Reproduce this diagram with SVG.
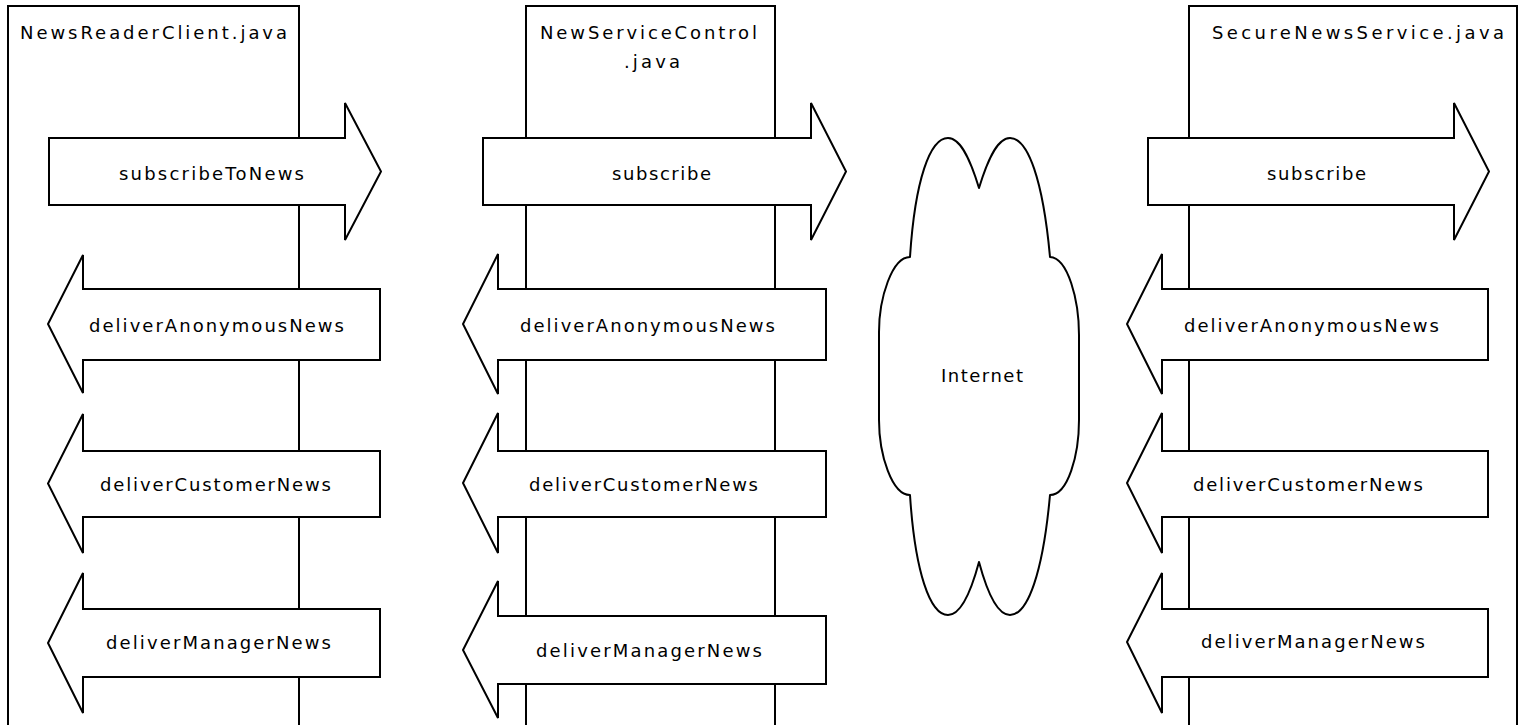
<svg xmlns="http://www.w3.org/2000/svg" width="1522" height="725" viewBox="0 0 1522 725">
  <style>
    .box { fill: #ffffff; stroke: #000000; stroke-width: 2; }
    .arrow { fill: #ffffff; stroke: #000000; stroke-width: 2; stroke-linejoin: miter; }
    .cloud { fill: #ffffff; stroke: #000000; stroke-width: 2; stroke-linejoin: round; }
    .lbl { font-family: "DejaVu Sans", "Liberation Sans", sans-serif; font-size: 18px; fill: #000000; }
  </style>

  <rect x="0" y="0" width="1522" height="725" fill="#ffffff"/>

  <!-- component boxes -->
  <g id="newsReaderClient">
    <rect class="box" x="8" y="6" width="291" height="730"/>
    <text class="lbl" x="20" y="39" textLength="267" lengthAdjust="spacing">NewsReaderClient.java</text>
  </g>

  <g id="newServiceControl">
    <rect class="box" x="526" y="6" width="249" height="730"/>
    <text class="lbl" x="540" y="39" textLength="217" lengthAdjust="spacing">NewServiceControl</text>
    <text class="lbl" x="624" y="68" textLength="56" lengthAdjust="spacing">.java</text>
  </g>

  <g id="secureNewsService">
    <rect class="box" x="1189" y="6" width="328" height="730"/>
    <text class="lbl" x="1212" y="39" textLength="292" lengthAdjust="spacing">SecureNewsService.java</text>
  </g>

  <!-- network cloud -->
  <g id="internet">
    <path class="cloud" d="M910 257
      C915 180 930 138 948 138
      C962 138 972 165 979 188
      C986 165 996 138 1010 138
      C1028 138 1043 180 1050 257
      C1068 258 1079 300 1079 335
      L1079 420
      C1079 455 1068 495 1050 495
      C1043 572 1028 615 1010 615
      C996 615 986 588 979 562
      C972 588 962 615 948 615
      C930 615 915 572 910 495
      C892 495 879 455 879 420
      L879 332
      C879 298 892 257 910 257 Z"/>
    <text class="lbl" x="941" y="382" textLength="82" lengthAdjust="spacing">Internet</text>
  </g>

  <!-- message arrows -->
  <g id="connectors">
    <!-- subscribe calls (left to right) -->
    <g id="msg-subscribeToNews">
      <path class="arrow" d="M49 138 H345 V103 L381 171.5 L345 240 V205 H49 Z"/>
      <text class="lbl" x="119" y="180" textLength="185" lengthAdjust="spacing">subscribeToNews</text>
    </g>
    <g id="msg-subscribe-control">
      <path class="arrow" d="M483 138 H811 V103 L846 171.5 L811 240 V205 H483 Z"/>
      <text class="lbl" x="612" y="180" textLength="99" lengthAdjust="spacing">subscribe</text>
    </g>
    <g id="msg-subscribe-service">
      <path class="arrow" d="M1148 138 H1454 V103 L1489 171.5 L1454 240 V205 H1148 Z"/>
      <text class="lbl" x="1267" y="180" textLength="99" lengthAdjust="spacing">subscribe</text>
    </g>

    <!-- delivery callbacks (right to left) -->
    <g id="msg-anon-client">
      <path class="arrow" d="M380 289 H83 V255 L48 324 L83 393 V360 H380 Z"/>
      <text class="lbl" x="89" y="332" textLength="255" lengthAdjust="spacing">deliverAnonymousNews</text>
    </g>
    <g id="msg-customer-client">
      <path class="arrow" d="M380 451 H83 V414 L48 483.5 L83 553 V517 H380 Z"/>
      <text class="lbl" x="100" y="491" textLength="231" lengthAdjust="spacing">deliverCustomerNews</text>
    </g>
    <g id="msg-manager-client">
      <path class="arrow" d="M380 609 H83 V573 L48 643 L83 713 V677 H380 Z"/>
      <text class="lbl" x="106" y="649" textLength="225" lengthAdjust="spacing">deliverManagerNews</text>
    </g>

    <g id="msg-anon-control">
      <path class="arrow" d="M826 289 H498 V254 L463 324 L498 394 V360 H826 Z"/>
      <text class="lbl" x="520" y="332" textLength="255" lengthAdjust="spacing">deliverAnonymousNews</text>
    </g>
    <g id="msg-customer-control">
      <path class="arrow" d="M826 451 H498 V413 L463 483 L498 553 V517 H826 Z"/>
      <text class="lbl" x="529" y="491" textLength="229" lengthAdjust="spacing">deliverCustomerNews</text>
    </g>
    <g id="msg-manager-control">
      <path class="arrow" d="M826 616 H498 V581 L463 650 L498 718 V684 H826 Z"/>
      <text class="lbl" x="536" y="657" textLength="226" lengthAdjust="spacing">deliverManagerNews</text>
    </g>

    <g id="msg-anon-service">
      <path class="arrow" d="M1488 289 H1162 V254 L1127 324 L1162 394 V360 H1488 Z"/>
      <text class="lbl" x="1184" y="332" textLength="255" lengthAdjust="spacing">deliverAnonymousNews</text>
    </g>
    <g id="msg-customer-service">
      <path class="arrow" d="M1488 451 H1162 V413 L1127 483 L1162 553 V517 H1488 Z"/>
      <text class="lbl" x="1193" y="491" textLength="230" lengthAdjust="spacing">deliverCustomerNews</text>
    </g>
    <g id="msg-manager-service">
      <path class="arrow" d="M1488 609 H1162 V573 L1127 642 L1162 713 V677 H1488 Z"/>
      <text class="lbl" x="1201" y="648" textLength="224" lengthAdjust="spacing">deliverManagerNews</text>
    </g>
  </g>
</svg>
